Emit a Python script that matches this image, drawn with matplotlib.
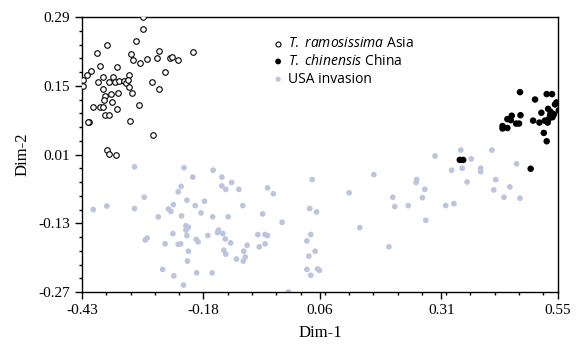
import matplotlib
matplotlib.use("Agg")
import matplotlib.pyplot as plt
from matplotlib.ticker import FixedLocator, AutoMinorLocator

# T. ramosissima Asia (open circles)
asia_x = [-0.304, -0.304, -0.319, -0.379, -0.400, -0.330, -0.326, -0.311, -0.297,
          -0.276, -0.271, -0.249, -0.244, -0.233, -0.202, -0.394, -0.411, -0.420,
          -0.427, -0.427, -0.397, -0.387, -0.386, -0.374, -0.366, -0.357, -0.362,
          -0.353, -0.344, -0.339, -0.334, -0.336, -0.334, -0.328, -0.355, -0.382,
          -0.385, -0.371, -0.368, -0.407, -0.393, -0.386, -0.357, -0.312, -0.286,
          -0.272, -0.259, -0.382, -0.375, -0.415, -0.417, -0.331, -0.284, -0.379,
          -0.375, -0.361]
asia_y = [0.290, 0.266, 0.242, 0.234, 0.216, 0.214, 0.202, 0.197, 0.205,
          0.206, 0.221, 0.206, 0.208, 0.202, 0.218, 0.190, 0.181, 0.172,
          0.162, 0.149, 0.158, 0.167, 0.143, 0.158, 0.167, 0.188, 0.157,
          0.160, 0.160, 0.155, 0.172, 0.162, 0.148, 0.136, 0.136, 0.129,
          0.121, 0.133, 0.117, 0.107, 0.107, 0.106, 0.103, 0.111, 0.158,
          0.144, 0.178, 0.090, 0.091, 0.077, 0.077, 0.078, 0.050, 0.019,
          0.011, 0.010]

# T. chinensis China (filled black)
china_x = [0.472, 0.527, 0.538, 0.503, 0.547, 0.544, 0.552, 0.530, 0.535, 0.516,
           0.542, 0.539, 0.531, 0.523, 0.529, 0.512, 0.499, 0.473, 0.455, 0.446,
           0.453, 0.464, 0.470, 0.436, 0.436, 0.446, 0.521, 0.527, 0.348, 0.355,
           0.494, 0.534]
china_y = [0.137, 0.133, 0.133, 0.122, 0.116, 0.112, 0.100, 0.103, 0.097, 0.095,
           0.092, 0.086, 0.082, 0.079, 0.075, 0.075, 0.079, 0.090, 0.089, 0.082,
           0.080, 0.073, 0.073, 0.068, 0.063, 0.064, 0.054, 0.037, -0.001, -0.001,
           -0.019, 0.090]

# USA invasion (light grey-blue)
usa_x = [-0.407, -0.379, -0.322, -0.322, -0.302, -0.300, -0.296, -0.273, -0.259, -0.264,
         -0.252, -0.247, -0.242, -0.243, -0.241, -0.232, -0.227, -0.232, -0.226, -0.225,
         -0.220, -0.214, -0.216, -0.211, -0.216, -0.214, -0.211, -0.213, -0.221, -0.202,
         -0.197, -0.195, -0.191, -0.194, -0.185, -0.178, -0.171, -0.162, -0.161, -0.160,
         -0.149, -0.151, -0.142, -0.142, -0.140, -0.135, -0.134, -0.129, -0.124, -0.138,
         -0.134, -0.122, -0.112, -0.107, -0.099, -0.097, -0.094, -0.098, -0.090, -0.068,
         -0.065, -0.048, -0.036, -0.058, -0.053, -0.048, -0.053, -0.018, -0.005, 0.044,
         0.039, 0.053, 0.041, 0.033, 0.050, 0.037, 0.033, 0.041, 0.055, 0.059,
         0.120, 0.142, 0.171, 0.202, 0.210, 0.214, 0.242, 0.258, 0.259, 0.276,
         0.271, 0.278, 0.297, 0.350, 0.414, 0.372, 0.331, 0.353, 0.391, 0.391,
         0.465, 0.363, 0.422, 0.418, 0.451, 0.439, 0.472, 0.319, 0.336]
usa_y = [-0.102, -0.095, -0.015, -0.100, -0.077, -0.164, -0.160, -0.117, -0.172, -0.224,
         -0.101, -0.106, -0.092, -0.151, -0.237, -0.173, -0.172, -0.066, -0.055, -0.115,
         -0.017, -0.083, -0.135, -0.138, -0.144, -0.155, -0.187, -0.207, -0.256, -0.036,
         -0.094, -0.163, -0.168, -0.231, -0.109, -0.085, -0.155, -0.231, -0.117, -0.022,
         -0.144, -0.149, -0.036, -0.054, -0.151, -0.162, -0.061, -0.117, -0.170, -0.185,
         -0.193, -0.047, -0.203, -0.061, -0.094, -0.187, -0.199, -0.207, -0.175, -0.153,
         -0.178, -0.058, -0.070, -0.111, -0.153, -0.155, -0.172, -0.128, -0.270, -0.041,
         -0.100, -0.107, -0.153, -0.166, -0.187, -0.197, -0.224, -0.236, -0.223, -0.226,
         -0.068, -0.139, -0.031, -0.178, -0.077, -0.096, -0.094, -0.047, -0.041, -0.061,
         -0.078, -0.124, 0.007, 0.019, 0.019, 0.001, -0.022, -0.018, -0.018, -0.025,
         -0.009, -0.046, -0.041, -0.062, -0.056, -0.077, -0.079, -0.094, -0.090]

x_ticks = [-0.43, -0.18, 0.06, 0.31, 0.55]
y_ticks = [-0.27, -0.13, 0.01, 0.15, 0.29]

# italic species names in the legend, same sans font as the rest of the legend
plt.rcParams["mathtext.fontset"] = "custom"
plt.rcParams["mathtext.rm"] = "Open Sans"
plt.rcParams["mathtext.it"] = "Open Sans:italic"

fig = plt.figure(figsize=(5.86, 3.47), dpi=100)
ax = fig.add_axes([0.140, 0.1585, 0.812, 0.7925])

ax.scatter(usa_x, usa_y, s=17, color="#bcc5dd", edgecolors="none", zorder=2,
           label="USA invasion")
ax.scatter(china_x, china_y, s=22, color="black", edgecolors="none", zorder=3,
           label="$\\it{T.}$ $\\it{chinensis}$ China")
ax.scatter(asia_x, asia_y, s=16, facecolors="white", edgecolors="black",
           linewidths=0.8, zorder=4, label="$\\it{T.}$ $\\it{ramosissima}$ Asia")

ax.set_xlim(-0.43, 0.55)
ax.set_ylim(-0.27, 0.29)
ax.xaxis.set_major_locator(FixedLocator(x_ticks))
ax.yaxis.set_major_locator(FixedLocator(y_ticks))
ax.set_xticklabels([f"{v:.2f}" for v in x_ticks])
ax.set_yticklabels([f"{v:.2f}" for v in y_ticks])
ax.xaxis.set_minor_locator(AutoMinorLocator(5))
ax.yaxis.set_minor_locator(AutoMinorLocator(5))
ax.tick_params(which="major", direction="out", length=5, width=1, labelsize=11)
ax.tick_params(which="minor", direction="out", length=2.5, width=1)
for lbl in ax.get_xticklabels() + ax.get_yticklabels():
    lbl.set_family("Liberation Serif")
for sp in ax.spines.values():
    sp.set_linewidth(1)

ax.set_xlabel("Dim-1", family="Liberation Serif", fontsize=12, labelpad=6)
ax.set_ylabel("Dim-2", family="Liberation Serif", fontsize=12, labelpad=6)

h, l = ax.get_legend_handles_labels()
leg = ax.legend(h[::-1], l[::-1], loc="upper left", bbox_to_anchor=(0.38, 0.955),
                frameon=False, handletextpad=0.1, labelspacing=0.2,
                borderpad=0, handlelength=1.2, markerscale=0.9,
                prop={"family": "Open Sans", "size": 10})

fig.savefig("out.png", dpi=100)
